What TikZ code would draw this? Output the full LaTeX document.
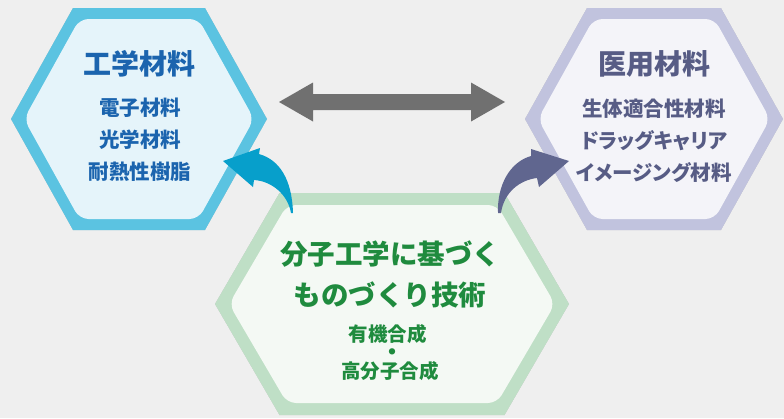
\documentclass[tikz,border=0pt]{standalone}
\usepackage{fontspec}
\setmainfont{Noto Sans CJK JP}
\usetikzlibrary{arrows.meta,positioning,calc}

\definecolor{bgc}{HTML}{EFEFEF}
\definecolor{cyanO}{HTML}{5BC3E1}
\definecolor{cyanI}{HTML}{E5F4FA}
\definecolor{cyanT}{HTML}{1B64AE}
\definecolor{lavO}{HTML}{C1C3DE}
\definecolor{lavI}{HTML}{F4F4F9}
\definecolor{lavT}{HTML}{575C85}
\definecolor{grnO}{HTML}{BFDFC6}
\definecolor{grnI}{HTML}{F4F9F4}
\definecolor{grnT}{HTML}{1F8B3E}
\definecolor{arrgray}{HTML}{707070}
\definecolor{arrblue}{HTML}{079FCB}
\definecolor{arrlav}{HTML}{60668F}

% hexagon: [options]{centre}{half width}{half height}{half top edge}
\newcommand{\hexa}[5][]{\path[#1] (#2) +(-#3,0) -- +(-#5,-#4) -- +(#5,-#4) -- +(#3,0) -- +(#5,#4) -- +(-#5,#4) -- cycle;}

\begin{document}
\begin{tikzpicture}[
  x=1pt, y=-1pt,
  every node/.style={align=center, inner sep=0pt},
  hexttl/.style={font=\bfseries\fontsize{28}{30}\selectfont},
  hexitems/.style={font=\bfseries\fontsize{20.5}{32}\selectfont},
  shd/.style={fill=black, opacity=0.045},
  dblarr/.style={fill=arrgray}
]
\fill[bgc] (0,0) rectangle (784,418);
\useasboundingbox (0,0) rectangle (784,418);

\coordinate (L) at (139,119);
\coordinate (R) at (654,119);
\coordinate (B) at (392,304);

% shadows
\foreach \s in {1,2,3,4} {
  \begin{scope}[xshift=\s pt, yshift=-\s pt]
    \hexa[shd]{L}{128}{111}{66}
    \hexa[shd]{R}{129}{111}{67}
    \hexa[shd]{B}{177}{111}{112.5}
  \end{scope}
}

% Left hexagon
\hexa[fill=cyanO]{L}{128}{111}{66}
\hexa[fill=cyanI, rounded corners=9pt]{L}{115}{100}{59.5}
\node[hexttl, text=cyanT] (ltitle) at ($(L)+(0,-55)$) {工学材料};
\node[hexitems, text=cyanT] (litems) at ($(L)+(1,21)$) {電子材料\\光学材料\\耐熱性樹脂};

% Right hexagon
\hexa[fill=lavO]{R}{129}{111}{67}
\hexa[fill=lavI, rounded corners=9pt]{R}{116}{100}{60.5}
\node[hexttl, text=lavT] (rtitle) at ($(R)+(0,-55)$) {医用材料};
\node[text=lavT, font={\bfseries\fontsize{20.5}{32}\selectfont\addfontfeatures{RawFeature=+palt}}] (ritems) at ($(R)+(0,22)$) {生体適合性材料\\ドラッグキャリア\\イメージング材料};

% Bottom hexagon
\hexa[fill=grnO]{B}{177}{111}{112.5}
\hexa[fill=grnI, rounded corners=9pt]{B}{163}{99}{105}
\node[text=grnT, font=\bfseries\fontsize{27.5}{41}\selectfont] (btitle) at ($(B)+(-2,-29.5)$) {分子工学に基づく\\ものづくり技術};
\node[text=grnT, font=\bfseries\fontsize{19.5}{20}\selectfont] (bitem1) at ($(B)+(-4.5,30)$) {有機合成};
\node[text=grnT, font=\bfseries\fontsize{7}{7}\selectfont] (bdot) at ($(B)+(0,48)$) {●};
\node[text=grnT, font=\bfseries\fontsize{19.5}{20}\selectfont] (bitem2) at ($(B)+(-2,67)$) {高分子合成};

% double arrow
\coordinate (dl) at (279,102);
\coordinate (dr) at (505,102);
\fill[dblarr] (dl) -- ++(34,-19.5) -- ++(0,11.5) -- ($(dr)+(-34,-8)$) -- ++(0,-11.5) -- (dr)
  -- ++(-34,19.5) -- ++(0,-11.5) -- ($(dl)+(34,8)$) -- ++(0,11.5) -- cycle;

% curved arrows
\coordinate (btail) at (293,213);
\coordinate (btip) at (223,161);
\fill[arrblue] (btail) .. controls (292,180) and (280,160) .. (259,154) -- (260,148) -- (btip)
  -- (253,187) -- (254,180) .. controls (272,181) and (288,195) .. (291,213) -- cycle;

\coordinate (ptail) at (498,213);
\coordinate (ptip) at (569,161);
\fill[arrlav] (ptail) .. controls (497,185) and (510,162) .. (531,156) -- (531,149) -- (ptip)
  -- (539,187) -- (537,178) .. controls (520,180) and (504,192) .. (501,213) -- cycle;
\end{tikzpicture}
\end{document}
